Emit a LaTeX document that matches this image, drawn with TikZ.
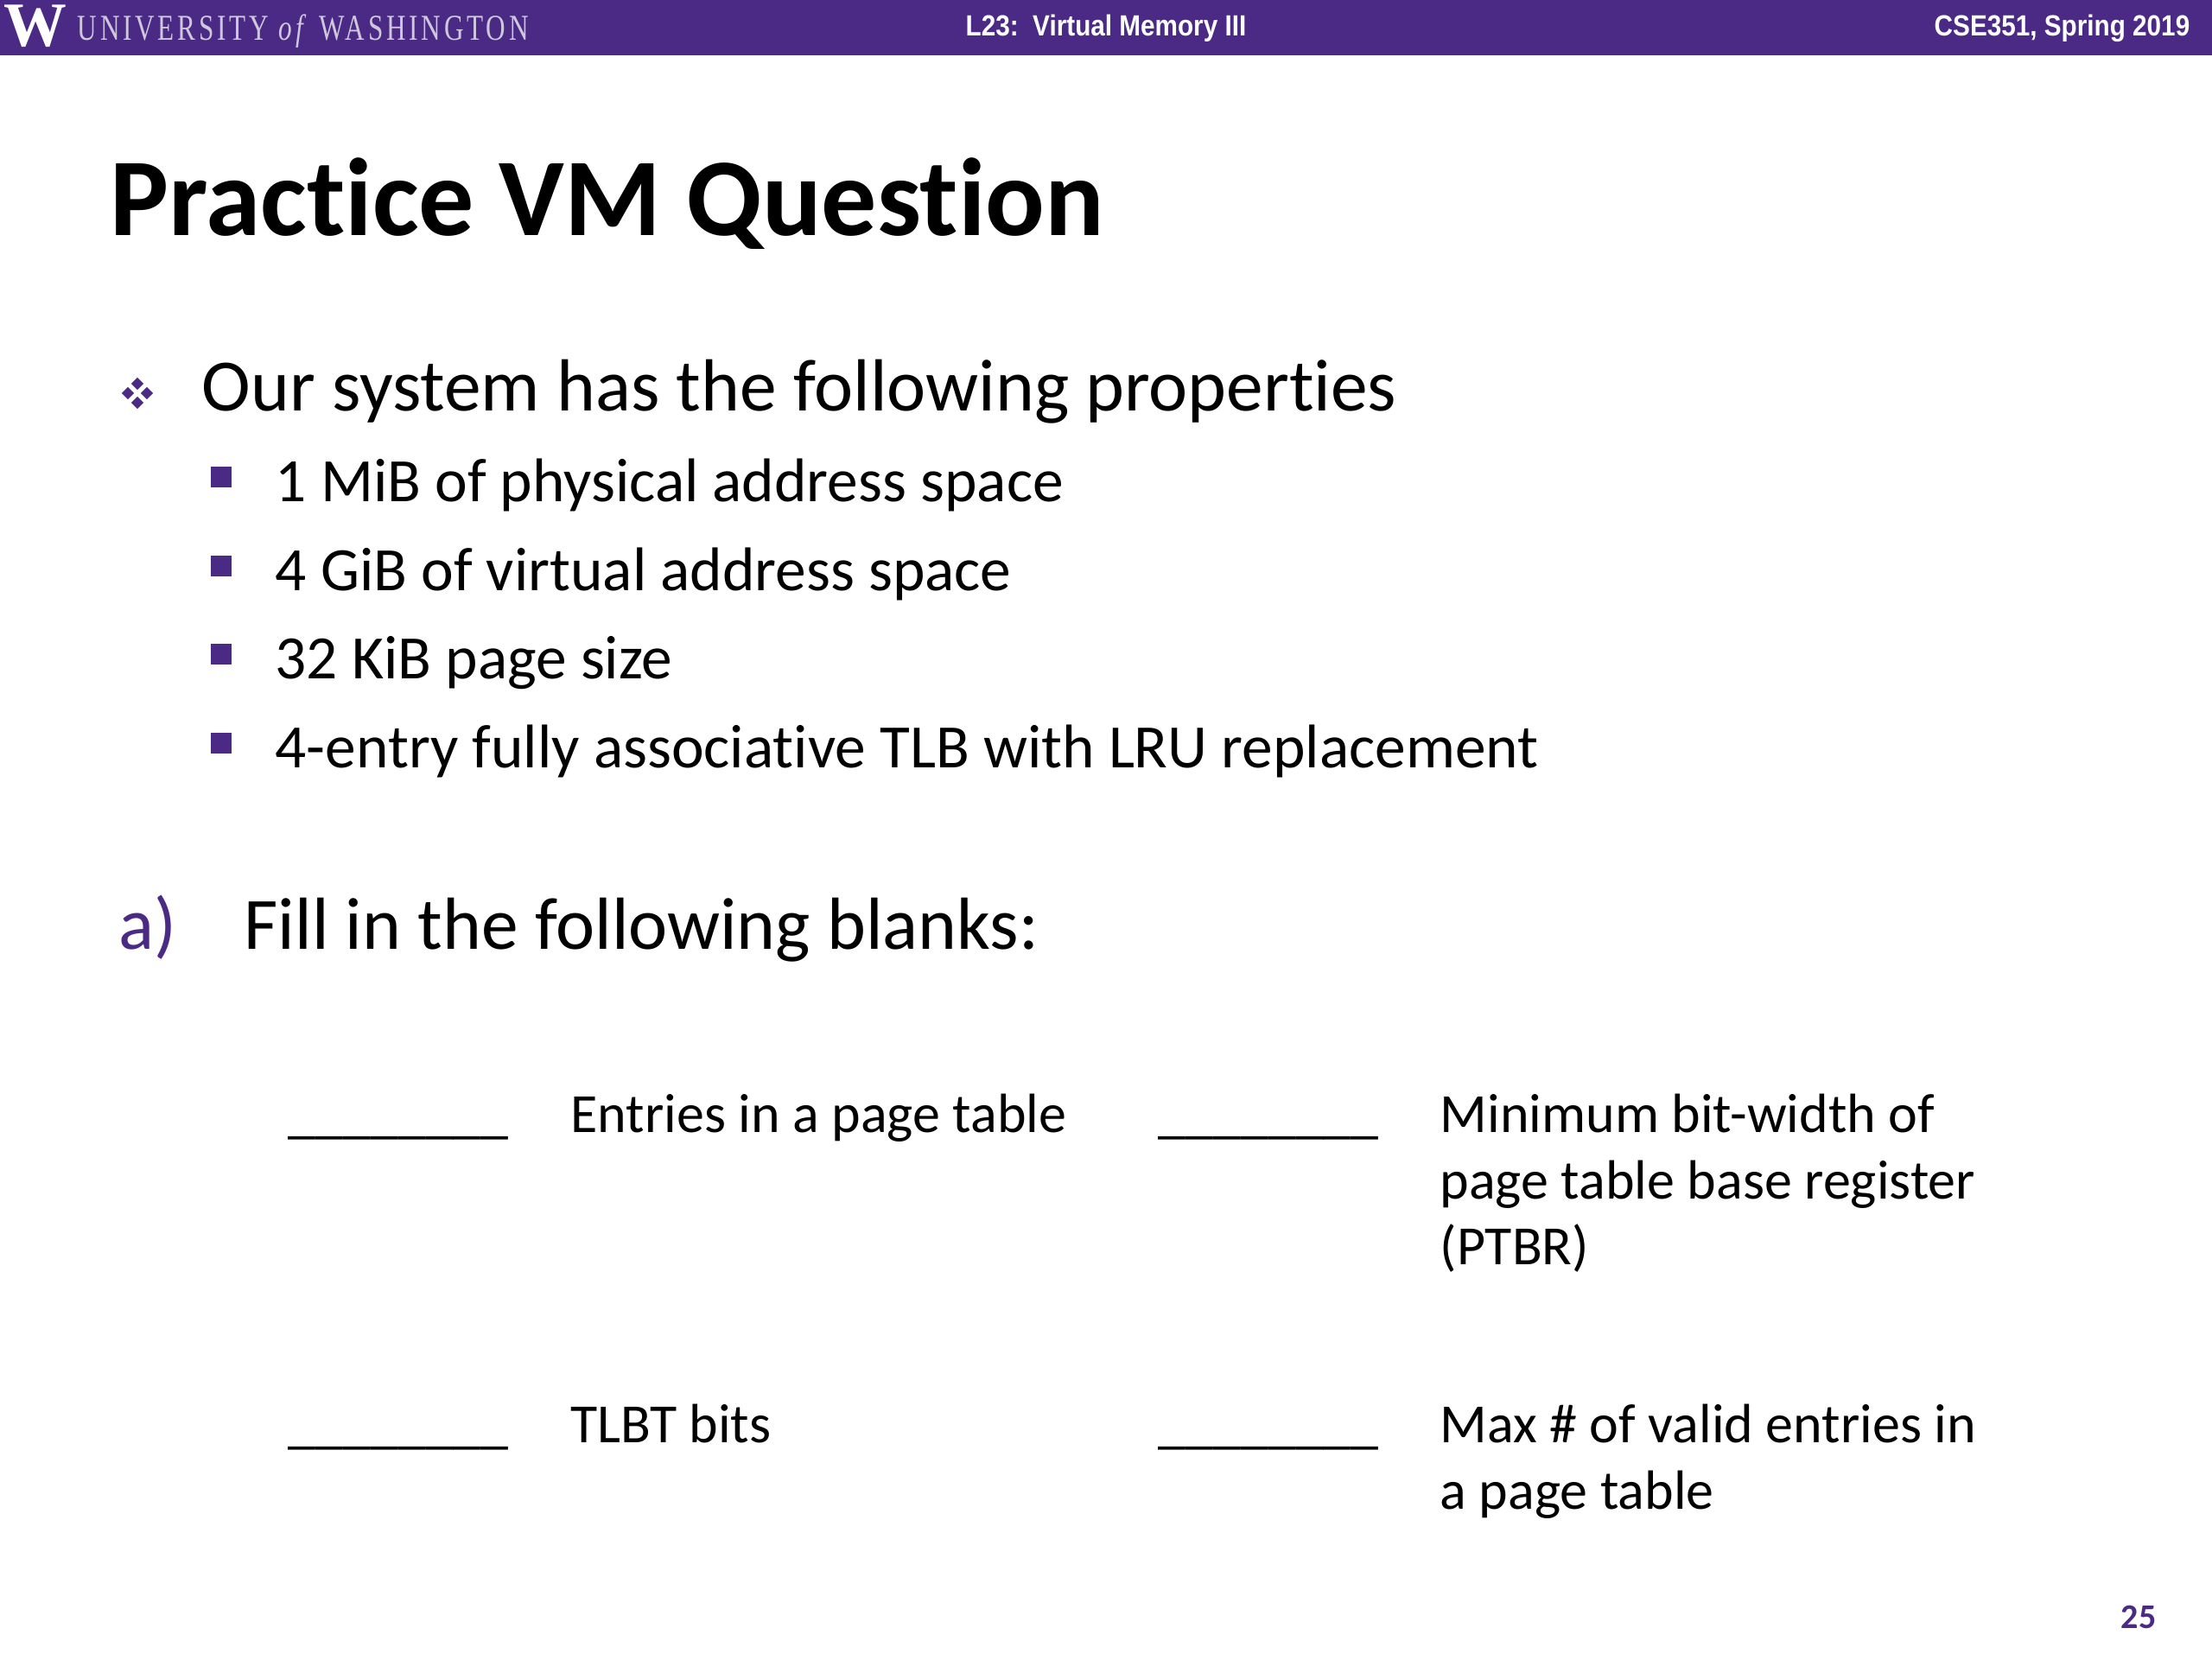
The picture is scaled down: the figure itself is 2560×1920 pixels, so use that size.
\documentclass[tikz,border=0pt]{standalone}
\usepackage{fontspec}
\usetikzlibrary{shapes.geometric}
\setmainfont[Ligatures={NoCommon}]{Carlito}
\newfontfamily\headfont[FakeStretch=0.88]{Liberation Sans}
\newfontfamily\logofont[FakeStretch=0.74, LetterSpace=9]{Liberation Serif}
\newfontfamily\wfont{Liberation Serif}
\definecolor{uwpurple}{HTML}{4B2A85}
\definecolor{logogray}{HTML}{CFC8DC}
\tikzset{
  txt/.style={anchor=base west, inner sep=0pt, text=black},
  head/.style={anchor=base, inner sep=0pt, text=white, font=\headfont\bfseries\fontsize{9.6}{11}\selectfont},
  lvlone/.style={txt, font=\fontsize{24.3}{29}\selectfont},
  lvltwo/.style={txt, font=\fontsize{20.3}{24}\selectfont},
  blank/.style={txt, font=\fontsize{18.2}{22}\selectfont},
  sqbullet/.style={rectangle, fill=uwpurple, inner sep=0pt, minimum size=0.24cm},
  dibullet/.style={diamond, fill=uwpurple, inner sep=0pt, minimum size=0.15cm}
}
\begin{document}
\begin{tikzpicture}[x=0.01cm, y=-0.01cm]
  \def\y{102.6}
  \def\a{333}
  \def\b{660}
  \def\c{1340}
  \def\d{1666}

  \useasboundingbox (0, 0) rectangle (2560, 1920);
  \fill[uwpurple] (0, 0) rectangle (2560, 64);

  \node[anchor=base west, inner sep=0pt, text=white, font=\wfont\bfseries\fontsize{20.7}{24}\selectfont] (logoW) at (4, 53) {W};
  \node[anchor=base west, inner sep=0pt, text=logogray, font=\logofont\fontsize{12}{14}\selectfont] (logotext) at (89, 46) {UNIVERSITY \textit{of} WASHINGTON};
  \node[head] (lecture) at (1280, 41) {L23:\ \ Virtual Memory III};
  \node[head, anchor=base east] (course) at (2535, 41) {CSE351, Spring 2019};

  \node[txt, font=\bfseries\fontsize{36.4}{44}\selectfont] (title) at (127, 272) {Practice VM Question};

  \node[dibullet] (d1) at (159, 444) {};
  \node[dibullet] (d2) at (148, 455) {};
  \node[dibullet] (d3) at (170, 455) {};
  \node[dibullet] (d4) at (159, 466) {};
  \node[lvlone] (intro) at (233, 475) {Our system has the following properties};

  \foreach \i/\t in {0/1 MiB of physical address space, 1/4 GiB of virtual address space, 2/32 KiB page size, 3/4-entry fully associative TLB with LRU replacement} {
    \node[sqbullet] (s\i) at (256, 552 + \i * \y) {};
    \node[lvltwo] (prop\i) at (318, 580.5 + \i * \y) {\t};
  }

  \node[lvlone, text=uwpurple] (parta) at (137, 1098) {a)};
  \node[lvlone] (fill) at (282, 1098) {Fill in the following blanks:};

  \node[blank] (blank1) at (\a, 1310) {\_\_\_\_\_\_\_\_};
  \node[blank] (entries) at (\b, 1310) {Entries in a page table};
  \node[blank] (blank2) at (\c, 1310) {\_\_\_\_\_\_\_\_};
  \node[blank] (ptbr1) at (\d, 1310) {Minimum bit-width of};
  \node[blank] (ptbr2) at (\d, 1387) {page table base register};
  \node[blank] (ptbr3) at (\d, 1463) {(PTBR)};

  \node[blank] (blank3) at (\a, 1669) {\_\_\_\_\_\_\_\_};
  \node[blank] (tlbt) at (\b, 1669) {TLBT bits};
  \node[blank] (blank4) at (\c, 1669) {\_\_\_\_\_\_\_\_};
  \node[blank] (max1) at (\d, 1669) {Max \# of valid entries in};
  \node[blank] (max2) at (\d, 1746) {a page table};

  \node[anchor=base east, inner sep=0pt, text=uwpurple, font=\bfseries\fontsize{11.4}{14}\selectfont] (pagenum) at (2496, 1884) {25};
\end{tikzpicture}
\end{document}
